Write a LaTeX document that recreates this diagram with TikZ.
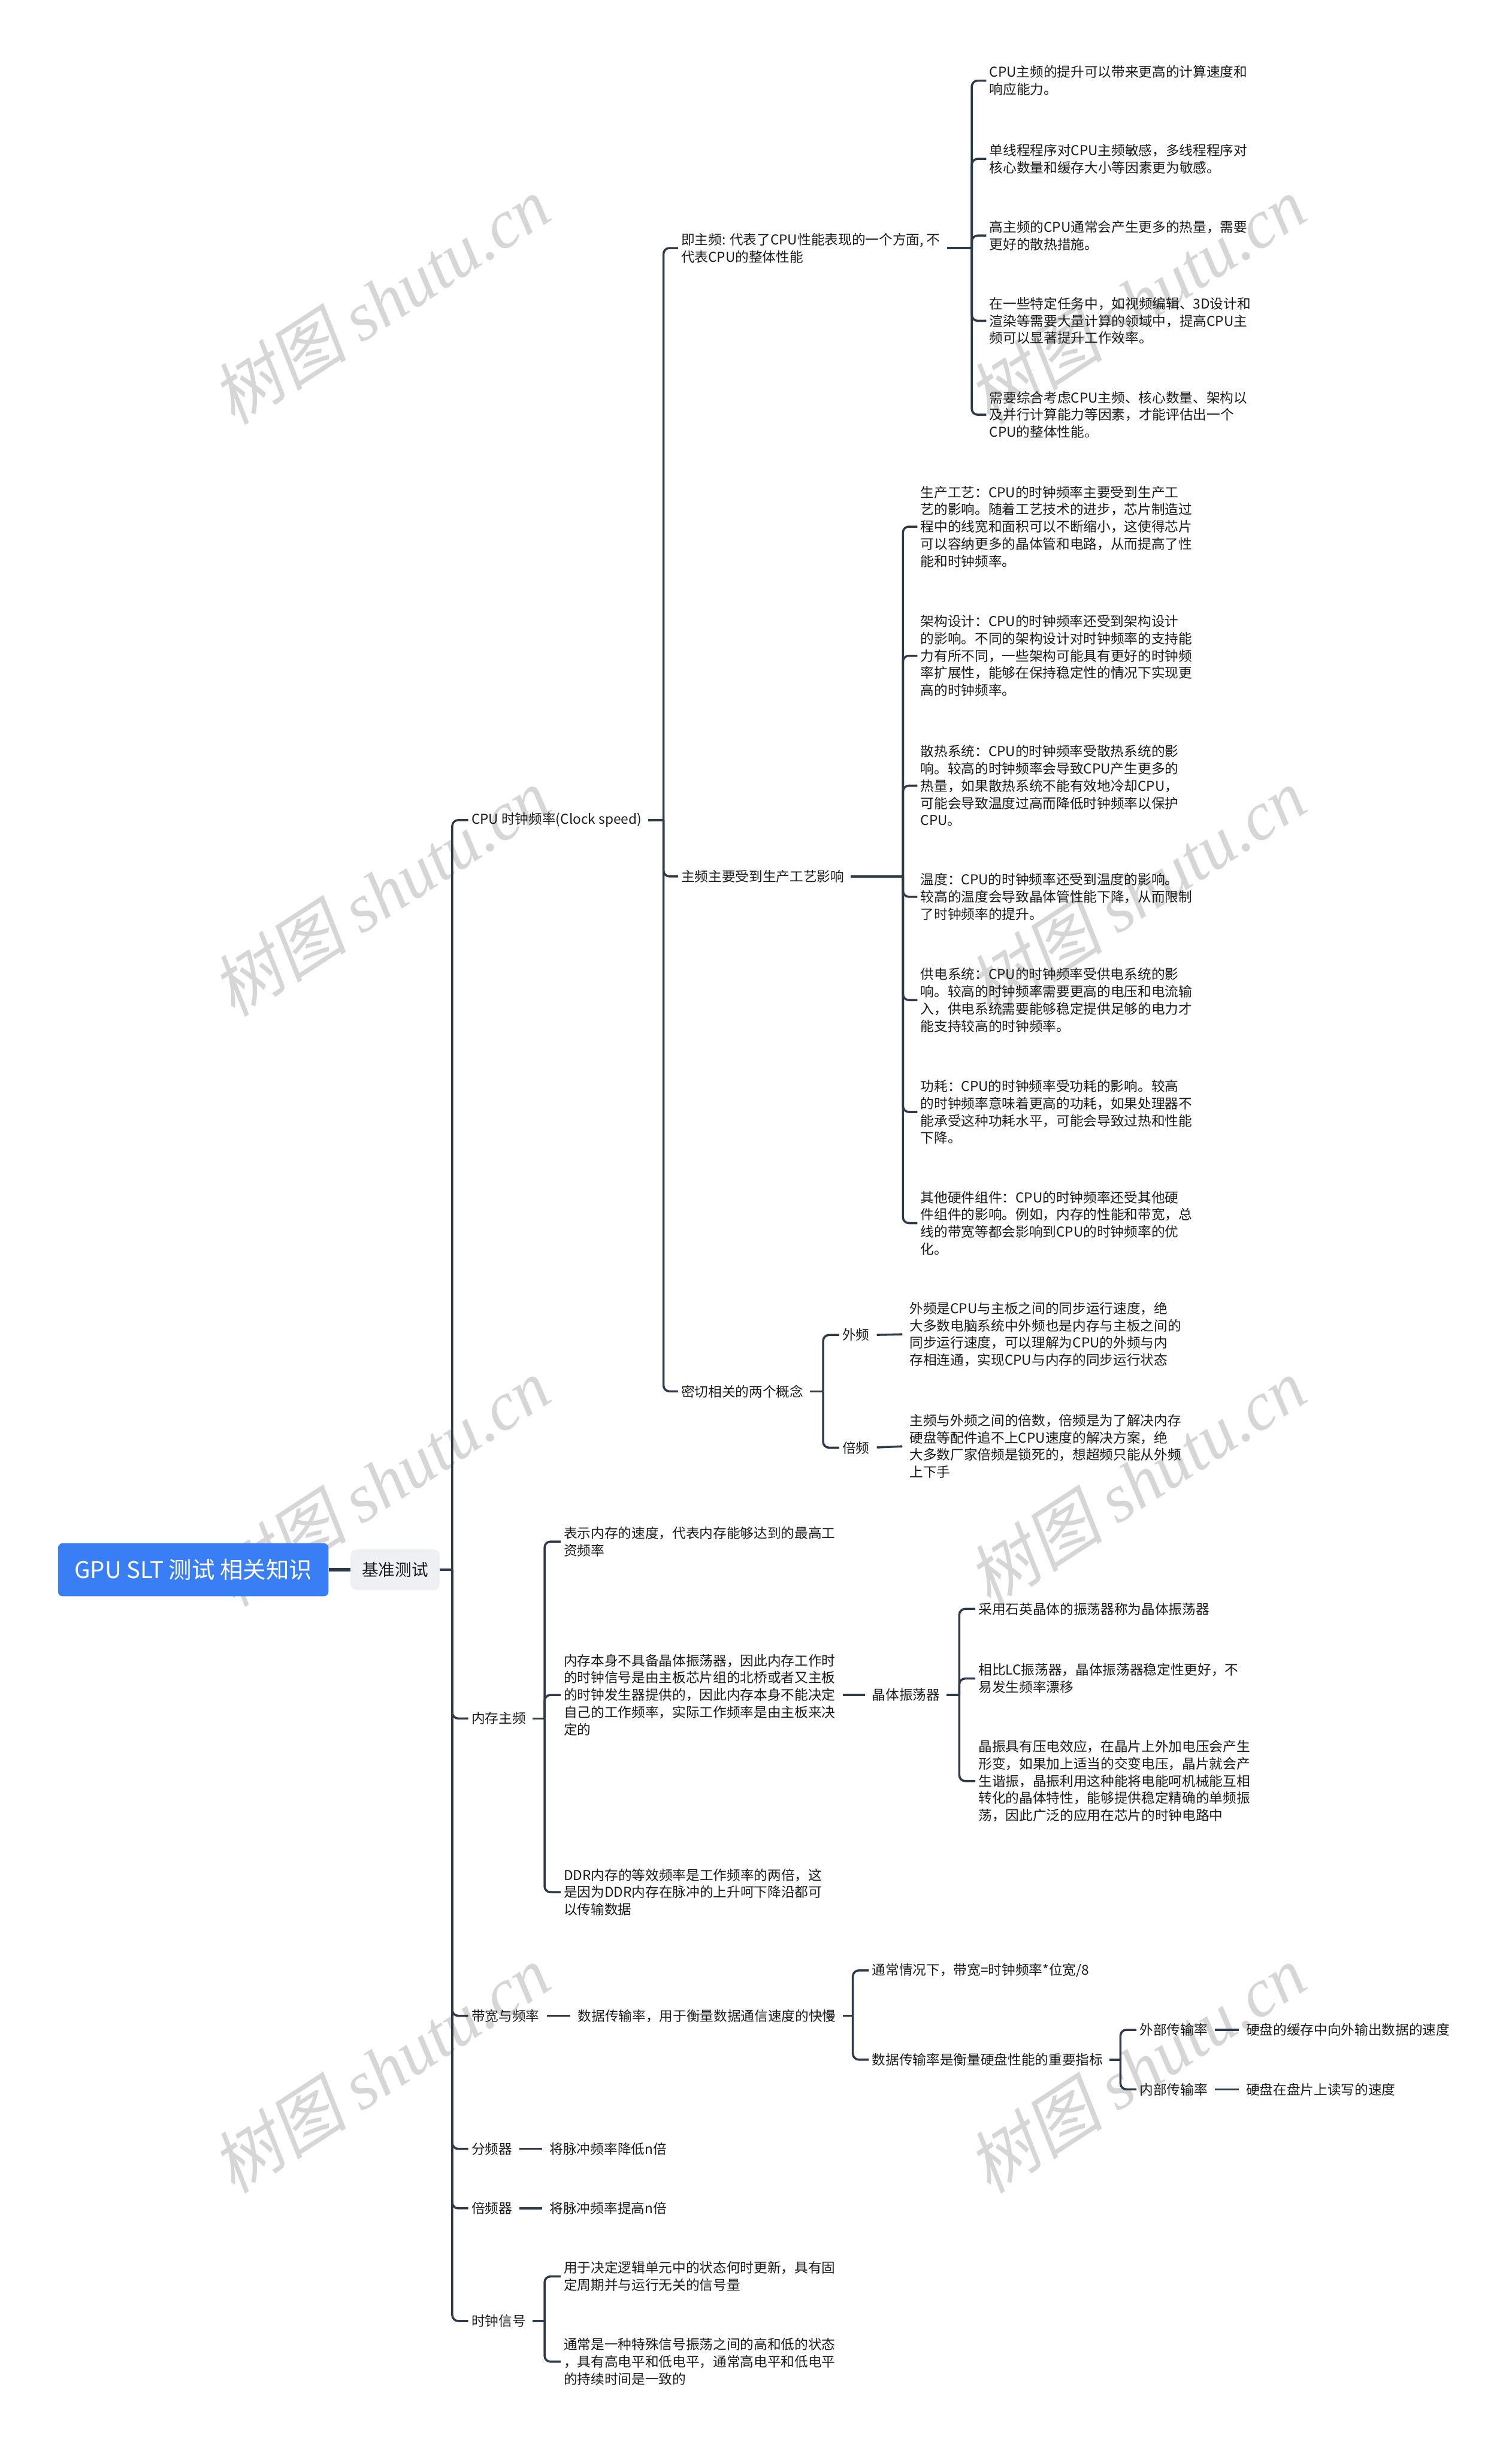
\documentclass[tikz,border=0pt]{standalone}
\usepackage{fontspec}
\setmainfont{Noto Sans CJK SC}
\newfontfamily\wmlatin{Liberation Serif}
\newfontfamily\wmcjk[FakeSlant=0.2]{Noto Sans CJK SC}
\usepackage{xcolor}
\usetikzlibrary{positioning}

\definecolor{linecol}{HTML}{2C3A4C}
\definecolor{rootblue}{HTML}{3A7EF6}
\definecolor{basegrey}{HTML}{EEF0F3}
\definecolor{wmgrey}{HTML}{D6D6D6}
\definecolor{textcol}{HTML}{1A1A1A}

\begin{document}
\begin{tikzpicture}[x=1.325pt,y=-1.325pt,
	txt/.style={anchor=west,align=left,inner xsep=1.5pt,inner ysep=1pt,text=textcol,font=\fontsize{11.5}{14.6}\selectfont},
	link/.style={draw=linecol,line width=1.8pt},
	elbow/.style={link,rounded corners=5pt,shorten >=1pt},
	stub/.style={link,shorten <=4.5pt,shorten >=4.5pt},
	root/.style={fill=rootblue,text=white,rounded corners=4pt,minimum width=229pt,minimum height=45pt,inner sep=0pt,font=\fontsize{19.5}{22}\selectfont},
	basebox/.style={fill=basegrey,text=textcol,rounded corners=5pt,minimum width=75.5pt,minimum height=34.5pt,inner sep=0pt,font=\fontsize{14}{16}\selectfont},
	wm/.style={text=wmgrey,rotate=33,inner sep=0pt,font=\fontsize{58}{62}\selectfont}]
		\useasboundingbox (0,0) rectangle (966,1568);
		\foreach \wx in {243,726}
			\foreach \wy in {192,570,947,1322}
				\node[wm] (wm-\wx-\wy) at (\wx,\wy) {{\wmcjk 树图} {\wmlatin\itshape shutu.cn}};
		\node[root] (gpu) at (123.5,1003) {GPU SLT 测试 相关知识};
		\node[basebox] (base) at (252.5,1003) {基准测试};
		\draw[link,line width=3pt] (gpu.east) -- (base.west);
		\coordinate (btr) at (289,1003);
		\draw[link] (base.east) -- (btr);
		\node[txt] (cpu) at (300,524) {CPU 时钟频率(Clock speed)};
		\node[txt] (mem) at (300,1098) {内存主频};
		\node[txt] (bw) at (300,1288) {带宽与频率};
		\node[txt] (div) at (300,1373) {分频器};
		\node[txt] (mul) at (300,1411) {倍频器};
		\node[txt] (sig) at (300,1483) {时钟信号};
		\foreach \n in {cpu,mem,bw,div,mul,sig}
			\draw[elbow] (btr) |- (\n.west);
		\coordinate (bcpu) at (424,524);
		\draw[link,shorten <=4pt] (cpu.east) -- (bcpu);
		\node[txt] (zp) at (434,158.5) {即主频: 代表了CPU性能表现的一个方面, 不\\代表CPU的整体性能};
		\node[txt] (sc) at (434,560) {主频主要受到生产工艺影响};
		\node[txt] (gn) at (434,889) {密切相关的两个概念};
		\foreach \n in {zp,sc,gn}
			\draw[elbow] (bcpu) |- (\n.west);
		\coordinate (bzp) at (621,158.5);
		\draw[link,shorten <=4pt] (zp.east) -- (bzp);
		\node[txt] (zp1) at (631,51.5) {CPU主频的提升可以带来更高的计算速度和\\响应能力。};
		\node[txt] (zp2) at (631,101.5) {单线程程序对CPU主频敏感，多线程程序对\\核心数量和缓存大小等因素更为敏感。};
		\node[txt] (zp3) at (631,150.5) {高主频的CPU通常会产生更多的热量，需要\\更好的散热措施。};
		\node[txt] (zp4) at (631,205) {在一些特定任务中，如视频编辑、3D设计和\\渲染等需要大量计算的领域中，提高CPU主\\频可以显著提升工作效率。};
		\node[txt] (zp5) at (631,265) {需要综合考虑CPU主频、核心数量、架构以\\及并行计算能力等因素，才能评估出一个\\CPU的整体性能。};
		\foreach \n in {zp1,zp2,zp3,zp4,zp5}
			\draw[elbow] (bzp) |- (\n.west);
		\coordinate (bsc) at (577,560);
		\draw[link,shorten <=4pt] (sc.east) -- (bsc);
		\node[txt] (sc1) at (587,336.5) {生产工艺：CPU的时钟频率主要受到生产工\\艺的影响。随着工艺技术的进步，芯片制造过\\程中的线宽和面积可以不断缩小，这使得芯片\\可以容纳更多的晶体管和电路，从而提高了性\\能和时钟频率。};
		\node[txt] (sc2) at (587,419) {架构设计：CPU的时钟频率还受到架构设计\\的影响。不同的架构设计对时钟频率的支持能\\力有所不同，一些架构可能具有更好的时钟频\\率扩展性，能够在保持稳定性的情况下实现更\\高的时钟频率。};
		\node[txt] (sc3) at (587,502) {散热系统：CPU的时钟频率受散热系统的影\\响。较高的时钟频率会导致CPU产生更多的\\热量，如果散热系统不能有效地冷却CPU，\\可能会导致温度过高而降低时钟频率以保护\\CPU。};
		\node[txt] (sc4) at (587,573) {温度：CPU的时钟频率还受到温度的影响。\\较高的温度会导致晶体管性能下降，从而限制\\了时钟频率的提升。};
		\node[txt] (sc5) at (587,639) {供电系统：CPU的时钟频率受供电系统的影\\响。较高的时钟频率需要更高的电压和电流输\\入，供电系统需要能够稳定提供足够的电力才\\能支持较高的时钟频率。};
		\node[txt] (sc6) at (587,710.5) {功耗：CPU的时钟频率受功耗的影响。较高\\的时钟频率意味着更高的功耗，如果处理器不\\能承受这种功耗水平，可能会导致过热和性能\\下降。};
		\node[txt] (sc7) at (587,781.5) {其他硬件组件：CPU的时钟频率还受其他硬\\件组件的影响。例如，内存的性能和带宽，总\\线的带宽等都会影响到CPU的时钟频率的优\\化。};
		\foreach \n in {sc1,sc2,sc3,sc4,sc5,sc6,sc7}
			\draw[elbow] (bsc) |- (\n.west);
		\coordinate (bgn) at (526,889);
		\draw[link,shorten <=4pt] (gn.east) -- (bgn);
		\node[txt] (wp) at (537,853) {外频};
		\node[txt] (bp) at (537,925) {倍频};
		\foreach \n in {wp,bp}
			\draw[elbow] (bgn) |- (\n.west);
		\node[txt] (wpt) at (580,852.5) {外频是CPU与主板之间的同步运行速度，绝\\大多数电脑系统中外频也是内存与主板之间的\\同步运行速度，可以理解为CPU的外频与内\\存相连通，实现CPU与内存的同步运行状态};
		\node[txt] (bpt) at (580,924) {主频与外频之间的倍数，倍频是为了解决内存\\硬盘等配件追不上CPU速度的解决方案，绝\\大多数厂家倍频是锁死的，想超频只能从外频\\上下手};
		\draw[stub] (wp.east) -- (wpt.west);
		\draw[stub] (bp.east) -- (bpt.west);
		\coordinate (bmem) at (348,1098);
		\draw[link,shorten <=4pt] (mem.east) -- (bmem);
		\node[txt] (m1) at (359,985) {表示内存的速度，代表内存能够达到的最高工\\资频率};
		\node[txt] (m2) at (359,1083) {内存本身不具备晶体振荡器，因此内存工作时\\的时钟信号是由主板芯片组的北桥或者又主板\\的时钟发生器提供的，因此内存本身不能决定\\自己的工作频率，实际工作频率是由主板来决\\定的};
		\node[txt] (m3) at (359,1209) {DDR内存的等效频率是工作频率的两倍，这\\是因为DDR内存在脉冲的上升呵下降沿都可\\以传输数据};
		\foreach \n in {m1,m2,m3}
			\draw[elbow] (bmem) |- (\n.west);
		\node[txt] (osc) at (556,1083) {晶体振荡器};
		\draw[stub] (m2.east) -- (osc.west);
		\coordinate (bosc) at (613,1083);
		\draw[link,shorten <=4pt] (osc.east) -- (bosc);
		\node[txt] (o1) at (624,1028) {采用石英晶体的振荡器称为晶体振荡器};
		\node[txt] (o2) at (624,1072.5) {相比LC振荡器，晶体振荡器稳定性更好，不\\易发生频率漂移};
		\node[txt] (o3) at (624,1138) {晶振具有压电效应，在晶片上外加电压会产生\\形变，如果加上适当的交变电压，晶片就会产\\生谐振，晶振利用这种能将电能呵机械能互相\\转化的晶体特性，能够提供稳定精确的单频振\\荡，因此广泛的应用在芯片的时钟电路中};
		\foreach \n in {o1,o2,o3}
			\draw[elbow] (bosc) |- (\n.west);
		\node[txt] (bwt) at (368,1288) {数据传输率，用于衡量数据通信速度的快慢};
		\draw[stub] (bw.east) -- (bwt.west);
		\coordinate (bbw) at (545,1288);
		\draw[link,shorten <=4pt] (bwt.east) -- (bbw);
		\node[txt] (bw1) at (556,1259) {通常情况下，带宽=时钟频率*位宽/8};
		\node[txt] (bw2) at (556,1316) {数据传输率是衡量硬盘性能的重要指标};
		\foreach \n in {bw1,bw2}
			\draw[elbow] (bbw) |- (\n.west);
		\coordinate (bhd) at (716,1316);
		\draw[link,shorten <=4pt] (bw2.east) -- (bhd);
		\node[txt] (ext) at (727,1297) {外部传输率};
		\node[txt] (int) at (727,1335) {内部传输率};
		\foreach \n in {ext,int}
			\draw[elbow] (bhd) |- (\n.west);
		\node[txt] (extt) at (795,1297) {硬盘的缓存中向外输出数据的速度};
		\node[txt] (intt) at (795,1335) {硬盘在盘片上读写的速度};
		\draw[stub] (ext.east) -- (extt.west);
		\draw[stub] (int.east) -- (intt.west);
		\node[txt] (divt) at (350,1373) {将脉冲频率降低n倍};
		\node[txt] (mult) at (350,1411) {将脉冲频率提高n倍};
		\draw[stub] (div.east) -- (divt.west);
		\draw[stub] (mul.east) -- (mult.west);
		\coordinate (bsig) at (348,1483);
		\draw[link,shorten <=4pt] (sig.east) -- (bsig);
		\node[txt] (s1) at (359,1454.5) {用于决定逻辑单元中的状态何时更新，具有固\\定周期并与运行无关的信号量};
		\node[txt] (s2) at (359,1509) {通常是一种特殊信号振荡之间的高和低的状态\\，具有高电平和低电平，通常高电平和低电平\\的持续时间是一致的};
		\foreach \n in {s1,s2}
			\draw[elbow] (bsig) |- (\n.west);
	\end{tikzpicture}
\end{document}
